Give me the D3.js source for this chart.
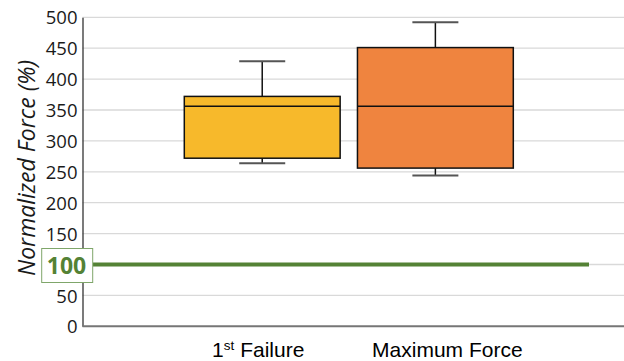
<!DOCTYPE html>
<html><head><meta charset="utf-8">
<script src="https://cdn.jsdelivr.net/npm/d3@7"></script>
<style>body{margin:0;background:#fff}svg{display:block}</style>
</head><body><svg id="c" width="624" height="361"></svg>
<script>
const categories = ["1st Failure", "Maximum Force"];
const whiskerLow = [264, 244];
const q1 = [272, 256];
const median = [356, 356];
const q3 = [372, 451];
const whiskerHigh = [429, 492];
const fills = ["#F7B92B", "#EF843F"];
const yTicks = [0, 50, 100, 150, 200, 250, 300, 350, 400, 450, 500];
const refValue = 100;

const svg = d3.select("#c");
const y = d3.scaleLinear().domain([0, 500]).range([326.3, 17.3]);
const x = d3.scaleBand().domain(categories).range([184.3, 513.3]).paddingInner(0.1).paddingOuter(0);
const left = 82.5, right = 624;

// gridlines
svg.append("g").selectAll("line").data(yTicks.filter(d => d > 0)).join("line")
  .attr("x1", left).attr("x2", right).attr("y1", d => y(d)).attr("y2", d => y(d))
  .attr("stroke", "#d9d9d9").attr("stroke-width", 1.3);

// y axis
const ya = svg.append("g").attr("transform", `translate(${left},0)`)
  .call(d3.axisLeft(y).tickValues(yTicks).tickSize(0).tickPadding(5));
ya.select(".domain").attr("stroke", "#333").attr("stroke-width", 1.3);
ya.selectAll("text").attr("font-family", "Open Sans, sans-serif").attr("font-size", 18.5).attr("fill", "#1a1a1a")
  .attr("dy", "0.36em").text(d => d === 100 ? "" : d);

// bottom axis line
svg.append("line").attr("x1", left).attr("x2", right).attr("y1", y(0)).attr("y2", y(0))
  .attr("stroke", "#767676").attr("stroke-width", 2);

// boxes
const data = categories.map((c, i) => ({c, lo: whiskerLow[i], q1: q1[i], med: median[i], q3: q3[i], hi: whiskerHigh[i], fill: fills[i]}));
const g = svg.append("g").selectAll("g").data(data).join("g");
const cx = d => x(d.c) + x.bandwidth() / 2;
const capW = 46;
g.append("line").attr("x1", cx).attr("x2", cx).attr("y1", d => y(d.hi)).attr("y2", d => y(d.q3)).attr("stroke", "#111").attr("stroke-width", 1.5);
g.append("line").attr("x1", cx).attr("x2", cx).attr("y1", d => y(d.lo)).attr("y2", d => y(d.q1)).attr("stroke", "#111").attr("stroke-width", 1.5);
g.append("line").attr("x1", d => cx(d) - capW / 2).attr("x2", d => cx(d) + capW / 2).attr("y1", d => y(d.hi)).attr("y2", d => y(d.hi)).attr("stroke", "#555").attr("stroke-width", 2);
g.append("line").attr("x1", d => cx(d) - capW / 2).attr("x2", d => cx(d) + capW / 2).attr("y1", d => y(d.lo)).attr("y2", d => y(d.lo)).attr("stroke", "#555").attr("stroke-width", 2);
g.append("rect").attr("x", d => x(d.c)).attr("width", x.bandwidth())
  .attr("y", d => y(d.q3)).attr("height", d => y(d.q1) - y(d.q3))
  .attr("fill", d => d.fill).attr("stroke", "#111").attr("stroke-width", 1.5);
g.append("line").attr("x1", d => x(d.c)).attr("x2", d => x(d.c) + x.bandwidth()).attr("y1", d => y(d.med)).attr("y2", d => y(d.med)).attr("stroke", "#111").attr("stroke-width", 1.5);

// reference line
svg.append("line").attr("x1", 93).attr("x2", 589).attr("y1", y(refValue)).attr("y2", y(refValue))
  .attr("stroke", "#548235").attr("stroke-width", 4);
svg.append("rect").attr("x", 41.7).attr("y", y(refValue) - 16).attr("width", 51).attr("height", 34)
  .attr("fill", "#fff").attr("stroke", "#7fa66a").attr("stroke-width", 1);
svg.append("text").attr("x", 66.5).attr("y", y(refValue) + 1).attr("dy", "0.36em").attr("text-anchor", "middle")
  .attr("font-family", "Open Sans, sans-serif").attr("font-weight", "bold").attr("font-size", 23).attr("fill", "#548235").text(refValue);

// x labels
const xl = svg.append("g").attr("font-family", "Liberation Sans, Arial, sans-serif").attr("font-size", 21).attr("fill", "#000");
const t1 = xl.append("text").attr("x", x(categories[0]) + x.bandwidth() / 2 - 4).attr("y", 357).attr("text-anchor", "middle");
t1.append("tspan").text("1");
t1.append("tspan").attr("font-size", 13.5).attr("dy", -7).text("st");
t1.append("tspan").attr("dy", 7).text(" Failure");
xl.append("text").attr("x", x(categories[1]) + x.bandwidth() / 2 + 12).attr("y", 357).attr("text-anchor", "middle").text(categories[1]);

// y title
svg.append("text").attr("transform", "translate(35,168) rotate(-90)").attr("text-anchor", "middle")
  .attr("font-family", "Open Sans, sans-serif").attr("font-style", "italic").attr("font-size", 23).attr("fill", "#1a1a1a")
  .text("Normalized Force (%)");
</script></body></html>
